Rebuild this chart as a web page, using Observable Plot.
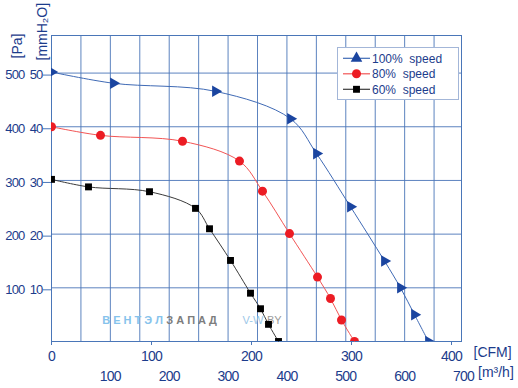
<!DOCTYPE html>
<html><head><meta charset="utf-8">
<script src="https://cdn.jsdelivr.net/npm/d3@7"></script>
<script src="https://cdn.jsdelivr.net/npm/@observablehq/plot@0.6"></script>
<style>
body{margin:0;background:#fff;}
#wrap{position:relative;width:518px;height:388px;font-family:"Liberation Sans",Arial,sans-serif;}
#legend{position:absolute;left:337px;top:47px;width:120px;height:51px;border:1px solid #a3b6d8;background:#fff;}
</style></head><body><div id="wrap"><div id="legend"></div></div>
<script>
// Data (CFM vs static pressure in Pa)
const cfm100 = [0, 62, 164, 239, 265, 299, 333, 349, 363, 377];
const pa100  = [502, 481, 466, 415, 350, 251, 150, 100, 50, 0];
const cfm80  = [0, 49, 131, 188, 211, 238, 266, 279, 290, 303];
const pa80   = [400, 384, 373, 336, 280, 201, 120, 80, 40, 0];
const cfm60  = [0, 37, 98, 144, 158, 179, 199, 209, 217, 227];
const pa60   = [302, 288, 279, 248, 210, 151, 90, 61, 32, 0];
const seriesNames = ["100%  speed", "80%  speed", "60%  speed"];
const cfmTicks = [0, 100, 200, 300, 400];
const m3hTicks = [100, 200, 300, 400, 500, 600, 700];
const m3hGrid  = [50, 100, 150, 200, 250, 300, 350, 400, 450, 500, 550, 600, 650];
const paTicks  = [100, 200, 300, 400, 500];
const M3H_PER_CFM = 1.699;
const toCFM = v => v / M3H_PER_CFM;

const styles = [
  {line: "#3f6ab5", mark: "#1b45a0", symbol: "triangle", r: 4.3, rotate: 90},
  {line: "#f25555", mark: "#ec1c24", symbol: "circle", r: 4.5, rotate: 0},
  {line: "#3a3a3a", mark: "#000000", symbol: "square", r: 3.9, rotate: 0}
];
const raw = [[cfm100, pa100], [cfm80, pa80], [cfm60, pa60]];
const rows = raw.flatMap(([c, p], k) => c.map((x, i) => ({s: k, cfm: x, pa: p[i]})));

const blue = "#4a76b8";
const txt = "#1c3c8c";
const font = "'Liberation Sans', Arial, sans-serif";

const lineMarks = styles.map((st, k) => Plot.line(rows.filter(d => d.s === k), {
  x: "cfm", y: "pa", stroke: st.line, strokeWidth: 1, curve: "catmull-rom"
}));
const dotMarks = styles.map((st, k) => Plot.dot(rows.filter(d => d.s === k), {
  x: "cfm", y: "pa", fill: st.mark, stroke: "none", symbol: st.symbol, r: st.r, rotate: st.rotate, clip: true
}));

const chart = Plot.plot({
  width: 518, height: 388,
  marginLeft: 51, marginRight: 57, marginTop: 35, marginBottom: 47,
  x: {domain: [0, 410], label: null},
  y: {domain: [0, 570], label: null},
  style: {fontFamily: font, background: "white", overflow: "visible"},
  marks: [
    Plot.gridX(m3hGrid.map(toCFM), {stroke: blue, strokeOpacity: 0.9, strokeWidth: 1}),
    Plot.gridY(paTicks, {stroke: blue, strokeOpacity: 0.9, strokeWidth: 1}),
    Plot.text(["В Е Н Т Э Л"], {text: d => d, frameAnchor: "bottom-left", textAnchor: "start", dx: 50.7, dy: -18, fontSize: 11, fontWeight: "bold", fill: "#86c3ec"}),
    Plot.text(["З А П А Д"], {text: d => d, frameAnchor: "bottom-left", textAnchor: "start", dx: 114.7, dy: -18, fontSize: 11, fontWeight: "bold", fill: "#7d7d7d"}),
    Plot.text(["V-W"], {text: d => d, frameAnchor: "bottom-left", textAnchor: "start", dx: 191, dy: -18, fontSize: 11, fill: "#9cc7e8"}),
    Plot.text([".BY"], {text: d => d, frameAnchor: "bottom-left", textAnchor: "start", dx: 212.4, dy: -18, fontSize: 11, fill: "#9a9a9a"}),
    Plot.frame({stroke: blue, strokeWidth: 1}),
    Plot.axisY(paTicks, {tickSize: 8, tickPadding: 1, tickFormat: d => d / 10, fontSize: 13, fill: txt, stroke: blue, dy: 2}),
    Plot.axisY(paTicks, {tickSize: 0, tickPadding: 27, tickFormat: d => d, fontSize: 13, fill: txt, dy: 2}),
    Plot.axisX(cfmTicks, {tickSize: 4, tickPadding: 6, fontSize: 14, fill: txt, stroke: blue}),
    Plot.axisX(m3hTicks.map(toCFM), {tickSize: 0, tickPadding: 29.5, tickFormat: d => Math.round(d * M3H_PER_CFM), fontSize: 14, fill: txt}),
    Plot.text(["[CFM]"], {text: d => d, frameAnchor: "bottom-right", textAnchor: "start", dx: 12, dy: 15.5, fontSize: 14, fill: txt}),
    Plot.text(["[m³/h]"], {text: d => d, frameAnchor: "bottom-right", textAnchor: "start", dx: 16.5, dy: 35, fontSize: 14, fill: txt}),
    Plot.text(["[Pa]"], {text: d => d, frameAnchor: "top-left", textAnchor: "start", rotate: -90, dx: -39, dy: 23, fontSize: 14, fill: txt}),
    Plot.text(["[mmH₂O]"], {text: d => d, frameAnchor: "top-left", textAnchor: "start", rotate: -90, dx: -14, dy: 25, fontSize: 14, fill: txt}),
    ...lineMarks,
    ...dotMarks
  ]
});
d3.select(chart).selectAll("g[aria-label$='tick label'] text").style("letter-spacing", "-0.8px");
const wrap = document.getElementById("wrap");
wrap.insertBefore(chart, wrap.firstChild);

// Legend
const lg = d3.select("#legend").append("svg").attr("width", 120).attr("height", 51)
  .style("font-family", font);
const symbols = [d3.symbolTriangle, d3.symbolCircle, d3.symbolSquare];
const sizes = [58, 64, 48];
seriesNames.forEach((name, k) => {
  const y = 10.3 + k * 15.5;
  const g = lg.append("g");
  g.append("line").attr("x1", 5).attr("x2", 32).attr("y1", y).attr("y2", y)
    .attr("stroke", styles[k].line).attr("stroke-width", 1.2);
  g.append("path").attr("d", d3.symbol(symbols[k], sizes[k])())
    .attr("transform", `translate(18.5,${y})`).attr("fill", styles[k].mark);
  g.append("text").attr("x", 34).attr("y", y).attr("dy", "0.35em")
    .attr("font-size", 12).attr("fill", txt).style("white-space", "pre").text(name);
});
</script>
</body></html>
